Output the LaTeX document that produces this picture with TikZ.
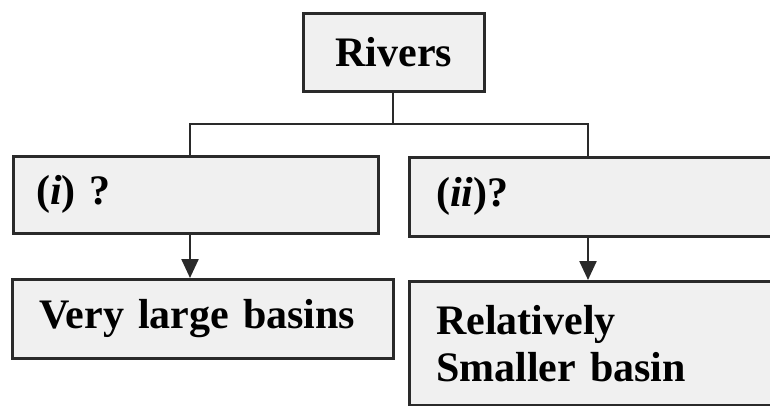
\documentclass[tikz,border=0pt]{standalone}
\usepackage{fontspec}
\setmainfont{Liberation Serif}
\usetikzlibrary{arrows.meta}
\definecolor{boxfill}{HTML}{F0F0F0}
\definecolor{edge}{HTML}{2A2A2A}
\tikzset{
  box/.style={draw=edge, line width=2.6pt, fill=boxfill, anchor=north west,
    font=\fontsize{42}{47}\selectfont\bfseries, align=left, inner ysep=0pt},
  link/.style={draw=edge, line width=2.4pt},
  arr/.style={link, -{Triangle[width=17pt,length=19pt]}}
}
\begin{document}
\begin{tikzpicture}[x=1pt,y=-1pt]
\useasboundingbox (0,0) rectangle (770,405);
\node[box, minimum width=181pt, minimum height=78pt, align=center, inner xsep=0pt] (rivers) at (302,12) {Rivers};
\node[box, minimum width=365pt, minimum height=77pt, text width=319pt, inner xsep=23pt] (one) at (12,155) {(\textit{i}) ?};
\node[box, minimum width=380pt, minimum height=79pt, text width=326pt, inner xsep=27pt] (two) at (408,156) {(\textit{ii})?};
\node[box, minimum width=381pt, minimum height=79pt, text width=327pt, inner xsep=27pt] (vlb) at (11,278) {Very large basins};
\node[box, minimum width=380pt, minimum height=124pt, text width=326pt, inner xsep=27pt] (rsb) at (408,280) {Relatively\\Smaller basin};
\coordinate (j) at (393,124);
\coordinate (jl) at (190,124);
\coordinate (jr) at (588,124);
\draw[link] (rivers.south -| j) -- (j);
\draw[link] (jl |- one.north) -- (jl) -- (jr) -- (jr |- two.north);
\draw[arr] (one.south -| jl) -- (vlb.north -| jl);
\draw[arr] (two.south -| jr) -- (rsb.north -| jr);
\end{tikzpicture}
\end{document}
